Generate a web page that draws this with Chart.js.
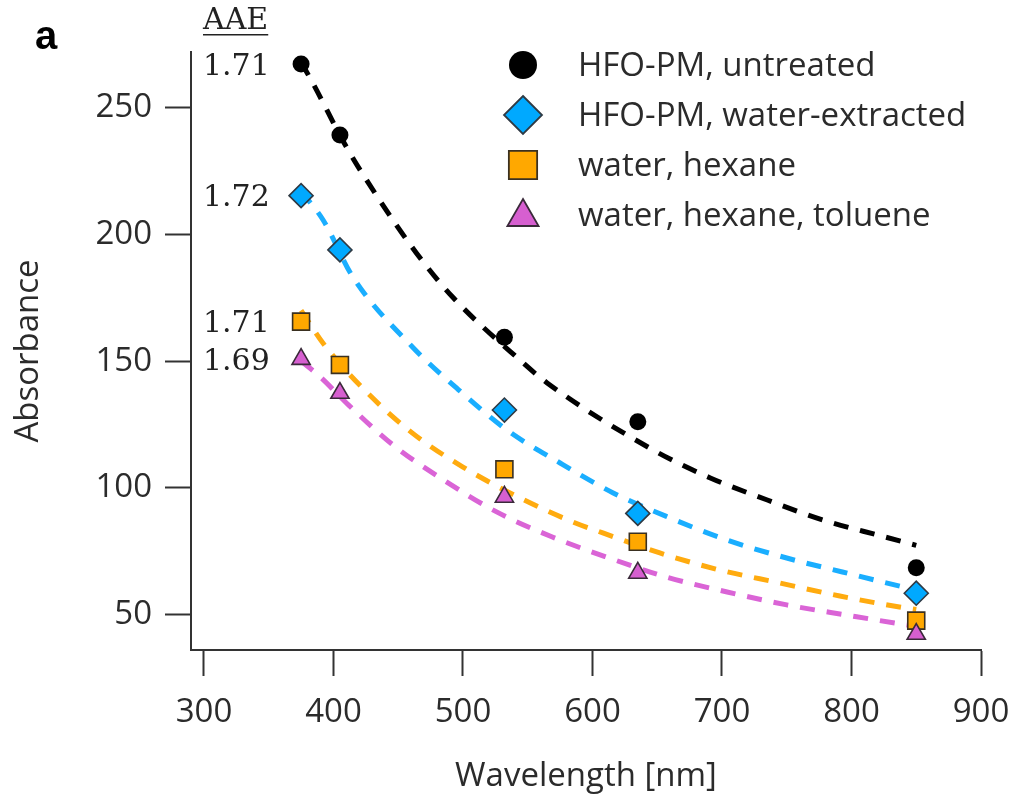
<!DOCTYPE html>
<html>
<head>
<meta charset="utf-8">
<script src="https://cdn.jsdelivr.net/npm/chart.js@4/dist/chart.umd.min.js"></script>
<style>
  body { margin: 0; background: #fff; }
</style>
</head>
<body>
<canvas id="chart" width="1012" height="799"></canvas>
<script>
// measured wavelengths (nm)
const wavelengths = [375, 405, 532, 635, 850];

// absorbance per sample
const untreated = [267.3, 239.2, 159.4, 126.1, 68.5];
const waterExtracted = [215.3, 193.9, 130.7, 89.9, 58.4];
const waterHexane = [165.6, 148.5, 107.3, 78.7, 47.6];
const waterHexaneToluene = [150.8, 137.4, 96.4, 66.4, 42.3];

// fitted power-law curves as [wavelength, absorbance]
const fitUntreated = [[375, 268], [384, 259.8], [410, 234.5], [434, 214.8], [464, 192.7], [492, 175.3],
  [544, 150.4], [565, 141.4], [647, 114.9], [691, 103.9], [735, 95.2], [778, 87.3], [823, 81], [850, 77.3]];
const fitWaterExtracted = [[375, 217], [392, 205.7], [415, 183.2], [461, 155.6], [495, 139.4], [534, 122.8],
  [575, 109.8], [616, 98], [660, 88.1], [704, 79.4], [750, 72.3], [793, 66.8], [840, 60.9], [850, 59.8]];
const fitWaterHexane = [[375, 170], [393, 156.4], [424, 138.6], [461, 121.6], [500, 108.2], [544, 96],
  [585, 86.5], [608, 82.2], [652, 74.3], [698, 67.6], [745, 62.4], [791, 57.3], [837, 53], [850, 52]];
const fitWaterHexaneToluene = [[375, 150], [390, 143.7], [410, 133.5], [446, 116.9], [485, 103.1], [526, 90.5],
  [569, 80.6], [613, 72.3], [657, 64.8], [704, 58.9], [750, 53.8], [796, 49.8], [843, 45.9], [850, 45.4]];

const aaeLabels = ["1.71", "1.72", "1.71", "1.69"];
const seriesNames = ["HFO-PM, untreated", "HFO-PM, water-extracted", "water, hexane", "water, hexane, toluene"];

const xTicks = [300, 400, 500, 600, 700, 800, 900];
const yTicks = [50, 100, 150, 200, 250];

const textColor = "#2b2b2b";
const axisColor = "#333333";
const sansFont = "'Open Sans', 'Noto Sans', sans-serif";
const serifFont = "'DejaVu Serif', serif";

const markerStyles = [
  { style: "circle", fill: "#000000", stroke: "#000000", r: 8.5, legendR: 14 },
  { style: "rectRot", fill: "#00a9ff", stroke: "#2f3a44", r: 12, legendR: 19 },
  { style: "rect", fill: "#ffa800", stroke: "#3a3020", r: 12, legendR: 20 },
  { style: "triangle", fill: "#d65fd0", stroke: "#3a2a3a", r: 10.5, legendR: 18 }
];
const lineColors = ["#000000", "#1aaeff", "#ffab0f", "#da64d6"];

const pointSeries = [untreated, waterExtracted, waterHexane, waterHexaneToluene];
const fitSeries = [fitUntreated, fitWaterExtracted, fitWaterHexane, fitWaterHexaneToluene];

const toXY = (xs, ys) => xs.map((x, i) => ({ x: x, y: ys[i] }));

let datasets = [];
pointSeries.forEach((vals, i) => {
  const m = markerStyles[i];
  datasets.push({
    label: seriesNames[i],
    data: toXY(wavelengths, vals),
    showLine: false,
    pointStyle: m.style,
    pointRadius: m.r,
    pointHoverRadius: m.r,
    pointBackgroundColor: m.fill,
    pointBorderColor: m.stroke,
    pointBorderWidth: i === 0 ? 0 : 1.6,
    order: 4 - i,
    clip: false
  });
});
fitSeries.forEach((pts, i) => {
  datasets.push({
    label: "fit " + seriesNames[i],
    data: pts.map(p => ({ x: p[0], y: p[1] })),
    showLine: true,
    pointRadius: 0,
    borderColor: lineColors[i],
    borderWidth: 5,
    borderDash: [15, 12],
    cubicInterpolationMode: "monotone",
    fill: false,
    order: 10 + i
  });
});

function drawMarker(ctx, style, x, y, r) {
  ctx.beginPath();
  if (style === "circle") {
    ctx.arc(x, y, r, 0, Math.PI * 2);
  } else if (style === "rectRot") {
    ctx.moveTo(x, y - r); ctx.lineTo(x + r, y); ctx.lineTo(x, y + r); ctx.lineTo(x - r, y);
    ctx.closePath();
  } else if (style === "rect") {
    const s = r * Math.SQRT1_2;
    ctx.rect(x - s, y - s, 2 * s, 2 * s);
  } else if (style === "triangle") {
    for (let k = 0; k < 3; k++) {
      const a = k * 2 * Math.PI / 3;
      const px = x + Math.sin(a) * r, py = y - Math.cos(a) * r;
      if (k === 0) ctx.moveTo(px, py); else ctx.lineTo(px, py);
    }
    ctx.closePath();
  }
}

// legend, AAE labels and panel letter
const annotations = {
  id: "annotations",
  afterDatasetsDraw(chart) {
    const ctx = chart.ctx;
    const area = chart.chartArea;
    const yScale = chart.scales.y;
    ctx.save();

    // legend in the top right of the plot
    const lx = area.right - 458;
    const tx = area.right - 403;
    ctx.font = "33px " + sansFont;
    ctx.textBaseline = "middle";
    ctx.textAlign = "left";
    seriesNames.forEach((name, i) => {
      const m = markerStyles[i];
      const ly = area.top + 13 + i * 50;
      ctx.fillStyle = m.fill;
      ctx.strokeStyle = m.stroke;
      ctx.lineWidth = 1.8;
      drawMarker(ctx, m.style, lx, ly + (m.style === "triangle" ? 2 : 0), m.legendR);
      ctx.fill();
      if (i > 0) ctx.stroke();
      ctx.fillStyle = textColor;
      ctx.fillText(name, tx, ly + 2);
    });

    // AAE column
    const ax = area.left + 12;
    ctx.font = "30px " + serifFont;
    ctx.fillStyle = "#222";
    ctx.textBaseline = "middle";
    ctx.fillText("AAE", ax, 21);
    const w = ctx.measureText("AAE").width;
    ctx.fillRect(ax, 34, w, 1.5);
    aaeLabels.forEach((lab, i) => {
      const y = yScale.getPixelForValue(pointSeries[i][0]) + 3;
      ctx.fillText(lab, ax, y);
    });

    // panel letter
    ctx.font = "bold 40px 'Liberation Sans', Arial, sans-serif";
    ctx.fillStyle = "#000";
    ctx.textAlign = "center";
    ctx.fillText("a", 46, 38);
    ctx.restore();
  }
};

new Chart(document.getElementById("chart"), {
  type: "scatter",
  data: { datasets: datasets },
  options: {
    responsive: false,
    animation: false,
    devicePixelRatio: 1,
    layout: { padding: { top: 52, right: 31, left: 0, bottom: 0 } },
    plugins: {
      legend: { display: false },
      tooltip: { enabled: false }
    },
    scales: {
      x: {
        type: "linear",
        min: 290,
        max: 900,
        afterBuildTicks: (axis) => { axis.ticks = xTicks.map(v => ({ value: v })); },
        afterFit: (axis) => { axis.height = 149; axis.paddingRight = 0; axis.paddingLeft = 0; },
        grid: { drawOnChartArea: false, drawTicks: true, tickLength: 26, tickColor: axisColor, tickWidth: 2 },
        border: { display: true, color: axisColor, width: 2 },
        ticks: { color: textColor, font: { family: sansFont, size: 33 }, padding: 17, maxRotation: 0 },
        title: { display: true, text: "Wavelength [nm]", color: textColor,
          font: { family: sansFont, size: 33 }, padding: { top: 0, bottom: 3 } }
      },
      y: {
        type: "linear",
        min: 36,
        max: 272,
        afterBuildTicks: (axis) => { axis.ticks = yTicks.map(v => ({ value: v })); },
        afterFit: (axis) => { axis.width = 191; axis.paddingTop = 0; axis.paddingBottom = 0; },
        grid: { drawOnChartArea: false, drawTicks: true, tickLength: 26, tickColor: axisColor, tickWidth: 2 },
        border: { display: true, color: axisColor, width: 2 },
        ticks: { color: textColor, font: { family: sansFont, size: 33 }, padding: 13 },
        title: { display: true, text: "Absorbance", color: textColor,
          font: { family: sansFont, size: 33 }, padding: { top: 9, bottom: 0 } }
      }
    }
  },
  plugins: [annotations]
});
</script>
</body>
</html>
